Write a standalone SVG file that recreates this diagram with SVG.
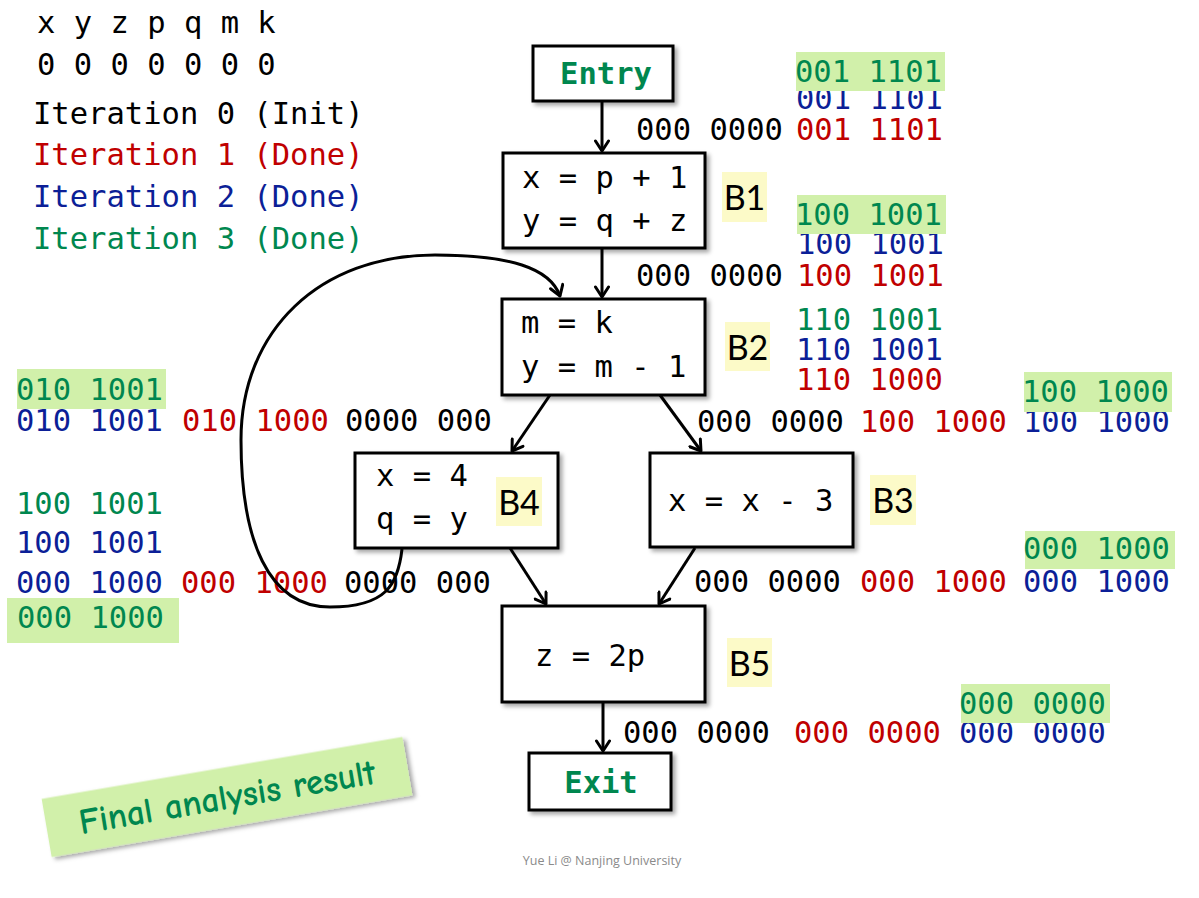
<svg xmlns="http://www.w3.org/2000/svg" width="1199" height="898" viewBox="0 0 1199 898">
<style>
.m{font-family:"DejaVu Sans Mono","Liberation Mono",monospace;font-size:30.5px}
.k{fill:#000}.r{fill:#C00000}.b{fill:#0C1F97}.g{fill:#00874F}
.hl{fill:#D1F0AA}
.box{fill:#fff;stroke:#000;stroke-width:3}
.lab{fill:#FCFAC8}
.lt{font-family:Lato,"Liberation Sans",sans-serif;font-size:34px;fill:#000;text-anchor:middle}
.bold{font-weight:bold;text-anchor:middle}
.c{fill:none;stroke:#000;stroke-width:3}
</style>
<defs>
<filter id="sh" x="-10%" y="-10%" width="130%" height="140%">
<feDropShadow dx="3" dy="3" stdDeviation="2" flood-color="#000" flood-opacity="0.35"/>
</filter>
<marker id="ah" viewBox="-12 -8 14 16" refX="0" refY="0" markerWidth="14" markerHeight="16" orient="auto" markerUnits="userSpaceOnUse">
<path d="M-10,-6.5 L0,0 L-10,6.5" fill="none" stroke="#000" stroke-width="3" stroke-linecap="round" stroke-linejoin="round"/>
</marker>
</defs>
<rect width="1199" height="898" fill="#fff"/>

<g id="legend">
<text class="m k" x="37" y="33" xml:space="preserve">x y z p q m k</text>
<text class="m k" x="37" y="75">0 0 0 0 0 0 0</text>
<text class="m k" x="33" y="124">Iteration 0 (Init)</text>
<text class="m r" x="33" y="165">Iteration 1 (Done)</text>
<text class="m b" x="33" y="207">Iteration 2 (Done)</text>
<text class="m g" x="33" y="249">Iteration 3 (Done)</text>
</g>

<g id="bits">
<text class="m b" x="796" y="109">001 1101</text>
<rect class="hl" x="796" y="52" width="149" height="39"/>
<text class="m g" x="795" y="82">001 1101</text>
<text class="m k" x="636" y="140">000 0000</text>
<text class="m r" x="796" y="140">001 1101</text>

<text class="m b" x="797" y="254">100 1001</text>
<rect class="hl" x="797" y="195" width="149" height="39"/>
<text class="m g" x="795" y="225">100 1001</text>
<text class="m k" x="636" y="286">000 0000</text>
<text class="m r" x="797" y="286">100 1001</text>

<text class="m g" x="796" y="330">110 1001</text>
<text class="m b" x="796" y="360">110 1001</text>
<text class="m r" x="796" y="390">110 1000</text>

<text class="m k" x="697" y="432">000 0000</text>
<text class="m r" x="860" y="432">100 1000</text>
<text class="m b" x="1023" y="432">100 1000</text>
<rect class="hl" x="1024" y="372" width="148" height="40"/>
<text class="m g" x="1022" y="402">100 1000</text>

<rect class="hl" x="1025" y="531" width="150" height="38"/>
<text class="m g" x="1023" y="559">000 1000</text>
<text class="m k" x="694" y="592">000 0000</text>
<text class="m r" x="860" y="592">000 1000</text>
<text class="m b" x="1023" y="592">000 1000</text>

<text class="m k" x="623" y="743">000 0000</text>
<text class="m r" x="794" y="743">000 0000</text>
<text class="m b" x="959" y="743">000 0000</text>
<rect class="hl" x="961" y="684" width="149" height="39"/>
<text class="m g" x="959" y="714">000 0000</text>

<text class="m b" x="16" y="431">010 1001</text>
<text class="m r" x="182" y="431">010 1000</text>
<text class="m k" x="345" y="431">0000 000</text>
<rect class="hl" x="17" y="369" width="149" height="40"/>
<text class="m g" x="16" y="400">010 1001</text>

<text class="m g" x="16" y="514">100 1001</text>
<text class="m b" x="16" y="553">100 1001</text>
<text class="m b" x="16" y="593">000 1000</text>
<text class="m r" x="181" y="593">000 1000</text>
<text class="m k" x="344" y="593">0000 000</text>
<rect class="hl" x="7" y="598" width="172" height="45"/>
<text class="m g" x="17" y="628">000 1000</text>
</g>

<g id="entry">
<rect class="box" x="533" y="46" width="140" height="55" filter="url(#sh)"/>
<text class="m g bold" x="606" y="84">Entry</text>
</g>

<g id="b1">
<rect class="box" x="503" y="153" width="202" height="95" filter="url(#sh)"/>
<text class="m k" x="522" y="188">x = p + 1</text>
<text class="m k" x="522" y="231">y = q + z</text>
<rect class="lab" x="722" y="172" width="45" height="50"/>
<text class="lt" x="744.5" y="210">B1</text>
</g>

<g id="b2">
<rect class="box" x="502" y="299" width="203" height="96" filter="url(#sh)"/>
<text class="m k" x="521" y="333">m = k</text>
<text class="m k" x="521" y="377">y = m - 1</text>
<rect class="lab" x="725" y="322" width="45" height="49"/>
<text class="lt" x="747.5" y="360">B2</text>
</g>

<g id="b4">
<rect class="box" x="355" y="453" width="203" height="95" filter="url(#sh)"/>
<text class="m k" x="376" y="486">x = 4</text>
<text class="m k" x="376" y="529">q = y</text>
<rect class="lab" x="496" y="477" width="46" height="49"/>
<text class="lt" x="519" y="515">B4</text>
</g>

<g id="b3">
<rect class="box" x="650" y="453" width="203" height="94" filter="url(#sh)"/>
<text class="m k" x="668" y="511">x = x - 3</text>
<rect class="lab" x="870" y="475" width="46" height="50"/>
<text class="lt" x="893" y="513">B3</text>
</g>

<g id="b5">
<rect class="box" x="502" y="606" width="203" height="96" filter="url(#sh)"/>
<text class="m k" x="535" y="666">z = 2p</text>
<rect class="lab" x="727" y="638" width="45" height="49"/>
<text class="lt" x="749.5" y="676">B5</text>
</g>

<g id="exit">
<rect class="box" x="529" y="753" width="142" height="57" filter="url(#sh)"/>
<text class="m g bold" x="601" y="793">Exit</text>
</g>

<g id="connectors">
<path class="c" d="M602 102 L602 151" marker-end="url(#ah)"/>
<path class="c" d="M602 248 L602 297" marker-end="url(#ah)"/>
<path class="c" d="M550 395 L512 451" marker-end="url(#ah)"/>
<path class="c" d="M660 395 L701 451" marker-end="url(#ah)"/>
<path class="c" d="M510 548 L546 604" marker-end="url(#ah)"/>
<path class="c" d="M695 548 L659 604" marker-end="url(#ah)"/>
<path class="c" d="M603 703 L603 751" marker-end="url(#ah)"/>
<path class="c" d="M402 549 C398 585 386 607 330 607 C268 607 241 540 241 440 C241 330 320 255 435 255 C510 255 550 268 560 296" marker-end="url(#ah)"/>
</g>

<g id="note" transform="translate(227,797) rotate(-9.75)">
<rect x="-183" y="-29.5" width="366" height="59" fill="#D1F0AA" filter="url(#sh)"/>
<text x="0" y="12" text-anchor="middle" font-family="'Comic Sans MS','Comic Neue','DejaVu Sans',sans-serif" font-size="36" font-weight="bold" fill="#00874F" textLength="300" lengthAdjust="spacingAndGlyphs">Final analysis result</text>
</g>

<text x="602" y="865" text-anchor="middle" font-family="'Open Sans','Liberation Sans',sans-serif" font-size="12.5" fill="#8a8a8a">Yue Li @ Nanjing University</text>
</svg>
